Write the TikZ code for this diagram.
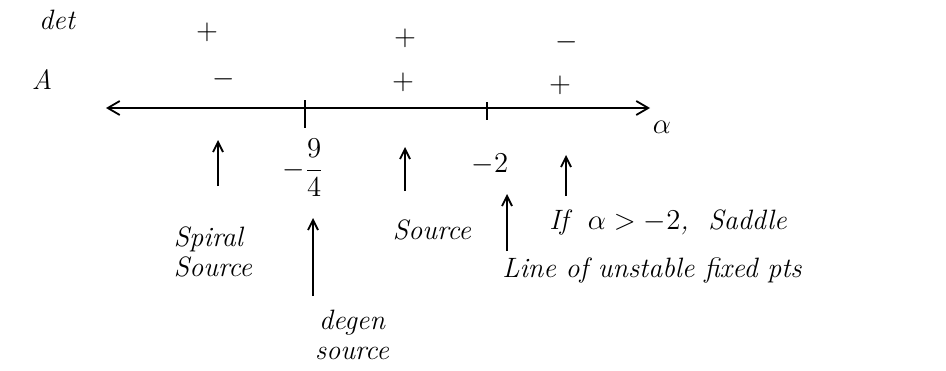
\documentclass[tikz,border=0pt]{standalone}
\usetikzlibrary{arrows.meta}
\tikzset{
  hand/.style={font=\fontsize{14}{15}\selectfont\itshape,inner sep=1pt,text=black},
  sgn/.style={font=\fontsize{14}{15}\selectfont,inner sep=1pt},
  up/.style={-{Straight Barb[length=5pt,width=5pt]},line width=0.9pt},
  axis/.style={{Straight Barb[length=6pt,width=7pt]}-{Straight Barb[length=6pt,width=7pt]},line width=0.9pt},
  tick/.style={line width=0.9pt}
}
\begin{document}
\begin{tikzpicture}[x=0.5pt,y=-0.5pt]
\useasboundingbox (0,0) rectangle (946,370);
% ---------------- row labels and signs ----------------
\node[hand] (det) at (57,20) {det};
\node[hand] (tra) at (42,80) {A};
\node[sgn] (d1) at (207,32) {$+$};
\node[sgn] (d2) at (405,38) {$+$};
\node[sgn] (d3) at (567,42) {$-$};
\node[sgn] (a1) at (224,79) {$-$};
\node[sgn] (a2) at (403,82) {$+$};
\node[sgn] (a3) at (560,85) {$+$};
% ---------------- axis ----------------
\coordinate (axl) at (106,108);
\coordinate (axr) at (650,108);
\draw[axis] (axl) -- (axr);
\node[hand] (alpha) at (662,127) {$\alpha$};
\draw[tick] (305,100) -- (305,128);
\draw[tick] (487,102) -- (487,120);
\node[sgn] (v94) at (303,168) {$-\displaystyle\frac{9}{4}$};
\node[sgn] (v2) at (490,164) {$-2$};
% ---------------- region labels ----------------
\node[hand,align=left] (spiral) at (213,252) {Spiral\\Source};
\node[hand] (src) at (432,230) {Source};
\node[hand] (ifsad) at (668,222) {If \ $\alpha>-2$, \ Saddle};
\node[hand] (line) at (652,270) {Line of unstable fixed pts};
\node[hand,align=center] (degen) at (352,335) {degen\\source};
% ---------------- arrows ----------------
\coordinate (t1) at (218,140);\coordinate (t2) at (405,147);\coordinate (t3) at (566,155);
\coordinate (b1) at (218,186);\coordinate (b2) at (405,191);\coordinate (b3) at (566,196);
\draw[up] (b1) -- (t1);
\draw[up] (b2) -- (t2);
\draw[up] (b3) -- (t3);
\coordinate (dg) at (313,296);\coordinate (dgt) at (313,218);
\draw[up] (dg) -- (dgt);
\coordinate (ln) at (507,251);\coordinate (lnt) at (507,194);
\draw[up] (ln) -- (lnt);
\end{tikzpicture}
\end{document}
